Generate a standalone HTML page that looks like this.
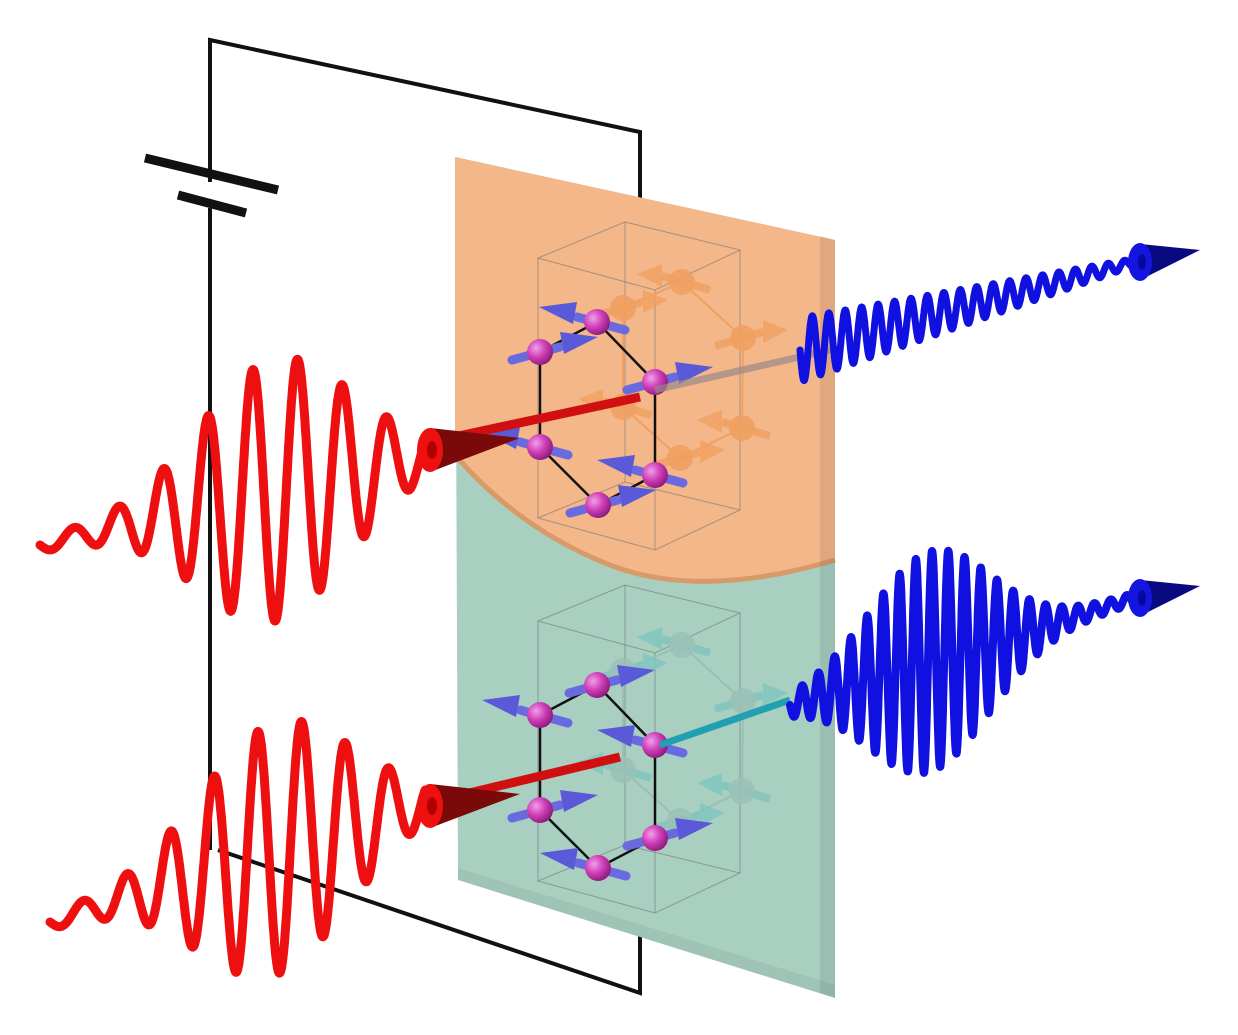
<!DOCTYPE html>
<html><head><meta charset="utf-8"><style>html,body{margin:0;padding:0;background:#fff}svg{display:block}</style></head>
<body>
<svg id="s" width="1238" height="1035" viewBox="0 0 1238 1035" xmlns="http://www.w3.org/2000/svg">
<defs>
<radialGradient id="mg" cx="0.35" cy="0.35" r="0.7"><stop offset="0" stop-color="#f0a0e8"/><stop offset="0.5" stop-color="#d040b8"/><stop offset="1" stop-color="#8a1a7a"/></radialGradient>
</defs>
<!-- circuit -->
<g stroke="#111" stroke-width="4" fill="none">
<polyline points="210,182 210,40 640,132 640,200"/>
<line x1="210" y1="208" x2="210" y2="850"/>
<polyline points="218,850 640,993 640,935"/>
<line x1="145" y1="158" x2="278" y2="190" stroke-width="9"/>
<line x1="178" y1="195" x2="246" y2="213" stroke-width="9"/>
</g>
<!-- slab -->
<polygon points="455,157 835,240 835,998 458,880" fill="#a8cfc0"/>
<path d="M455,157 L835,240 L835,560 Q700,600 610,565 Q520,530 455,455 Z" fill="#f3b78a"/>
<path d="M835,560 Q700,600 610,565 Q520,530 455,455" fill="none" stroke="#d99a6a" stroke-width="5"/>
<polygon points="820,236 835,240 835,998 820,993" fill="#000" opacity="0.08"/>
<polygon points="458,880 835,998 835,985 458,868" fill="#000" opacity="0.05"/>
<g id="crys"></g>
<g id="waves"></g>
</svg>
<script>
var NS="http://www.w3.org/2000/svg";
function el(p,tag,a){var e=document.createElementNS(NS,tag);for(var k in a)e.setAttribute(k,a[k]);p.appendChild(e);return e;}
var W=document.getElementById('waves'),C=document.getElementById('crys');
function wave(x0,y0,x1,y1,amp,lam,col,sw){
 var d="",n=1200;
 for(var i=0;i<=n;i++){var t=i/n,x=x0+(x1-x0)*t,y=y0+(y1-y0)*t;var a=amp(x);var L=Math.hypot(x1-x0,y1-y0);y+=a*Math.sin(2*Math.PI*t*L/lam);d+=(i?"L":"M")+x.toFixed(1)+","+y.toFixed(1);}
 el(W,'path',{d:d,fill:'none',stroke:col,'stroke-width':sw,'stroke-linecap':'round','stroke-linejoin':'round'});
}
function g(x,c,s,a){return a*Math.exp(-Math.pow((x-c)/s,2)/2);}
// crystals
function crystal(dy,back,bcol,bfill){
 var box=[[538,258+dy],[625,222+dy],[740,250+dy],[655,290+dy]];
 var st={stroke:'#777','stroke-width':1,fill:'none',opacity:0.6};
 el(C,'polygon',Object.assign({points:box.map(p=>p.join(',')).join(' ')},st));
 el(C,'polygon',Object.assign({points:box.map(p=>p[0]+','+(p[1]+260)).join(' ')},st));
 box.forEach(p=>el(C,'line',Object.assign({x1:p[0],y1:p[1],x2:p[0],y2:p[1]+260},st)));
 var b=[[682,282],[743,338],[742,428],[680,458],[623,407],[623,308]].map(p=>[p[0],p[1]+dy]);
 el(C,'polygon',{points:b.map(p=>p.join(',')).join(' '),fill:'none',stroke:bcol,'stroke-width':2});
 b.forEach(function(p,i){var s=i%2?1:-1;
  el(C,'polygon',{points:(p[0]+s*45)+','+(p[1]-8)+' '+(p[0]+s*20)+','+(p[1]-18)+' '+(p[0]+s*20)+','+(p[1]+5),fill:bfill,opacity:0.8});
  el(C,'line',{x1:p[0]-s*28,y1:p[1]+8,x2:p[0]+s*20,y2:p[1]-6,stroke:bfill,'stroke-width':8,opacity:0.8});
  el(C,'circle',{cx:p[0],cy:p[1],r:13,fill:bcol,opacity:0.85});});
 var f=[[597,322],[655,382],[655,475],[598,505],[540,447],[540,352]].map(p=>[p[0],p[1]+dy]);
 el(C,'polygon',{points:f.map(p=>p.join(',')).join(' '),fill:'none',stroke:'#111','stroke-width':2.5});
 f.forEach(function(p,i){var s=(i==0||i==2||i==4)?-1:1; if(dy>0)s=-s;
  el(C,'line',{x1:p[0]-s*28,y1:p[1]+8,x2:p[0]+s*20,y2:p[1]-5,stroke:'#6a6ae0','stroke-width':9,'stroke-linecap':'round'});
  el(C,'polygon',{points:(p[0]+s*58)+','+(p[1]-15)+' '+(p[0]+s*20)+','+(p[1]-20)+' '+(p[0]+s*24)+','+(p[1]+2),fill:'#5a5ad8'});
  el(C,'circle',{cx:p[0],cy:p[1],r:13,fill:'url(#mg)'});});
}
crystal(0,true,'#f0a060','#f0a060');
crystal(363,true,'#9bbfb5','#7fc4bf');
// beams
el(W,'line',{x1:440,y1:440,x2:640,y2:397,stroke:'#d01010','stroke-width':9});
el(W,'line',{x1:440,y1:800,x2:620,y2:757,stroke:'#d01010','stroke-width':9});
el(W,'line',{x1:655,y1:390,x2:830,y2:350,stroke:'#9a8a88','stroke-width':7,opacity:0.7});
el(W,'line',{x1:660,y1:745,x2:790,y2:700,stroke:'#20a0b0','stroke-width':7});
// red waves
wave(40,545,425,455,x=>g(x,275,75,125)+6,46,'#ee1010',9);
wave(50,922,425,800,x=>g(x,275,75,120)+6,46,'#ee1010',9);
// cones red
[[430,450],[430,806]].forEach(function(p){
 el(W,'polygon',{points:(p[0])+','+(p[1]-22)+' '+(p[0]+90)+','+(p[1]-12)+' '+(p[0])+','+(p[1]+22),fill:'#7a0a0a'});
 el(W,'ellipse',{cx:p[0],cy:p[1],rx:13,ry:22,fill:'#ee1010'});
 el(W,'ellipse',{cx:p[0]+2,cy:p[1],rx:5,ry:9,fill:'#b00000'});});
// blue waves
wave(800,350,1135,262,x=>Math.max(3,32-(x-800)*0.085),17,'#1010e0',7);
wave(790,705,1135,598,x=>g(x,930,60,105)+5,17,'#1010e0',8);
[[1140,262],[1140,598]].forEach(function(p){
 el(W,'polygon',{points:p[0]+','+(p[1]-18)+' '+(p[0]+60)+','+(p[1]-12)+' '+p[0]+','+(p[1]+18),fill:'#0a0a80'});
 el(W,'ellipse',{cx:p[0],cy:p[1],rx:12,ry:19,fill:'#1515e0'});
 el(W,'ellipse',{cx:p[0]+2,cy:p[1],rx:4,ry:8,fill:'#0808a0'});});
</script>
</body></html>
